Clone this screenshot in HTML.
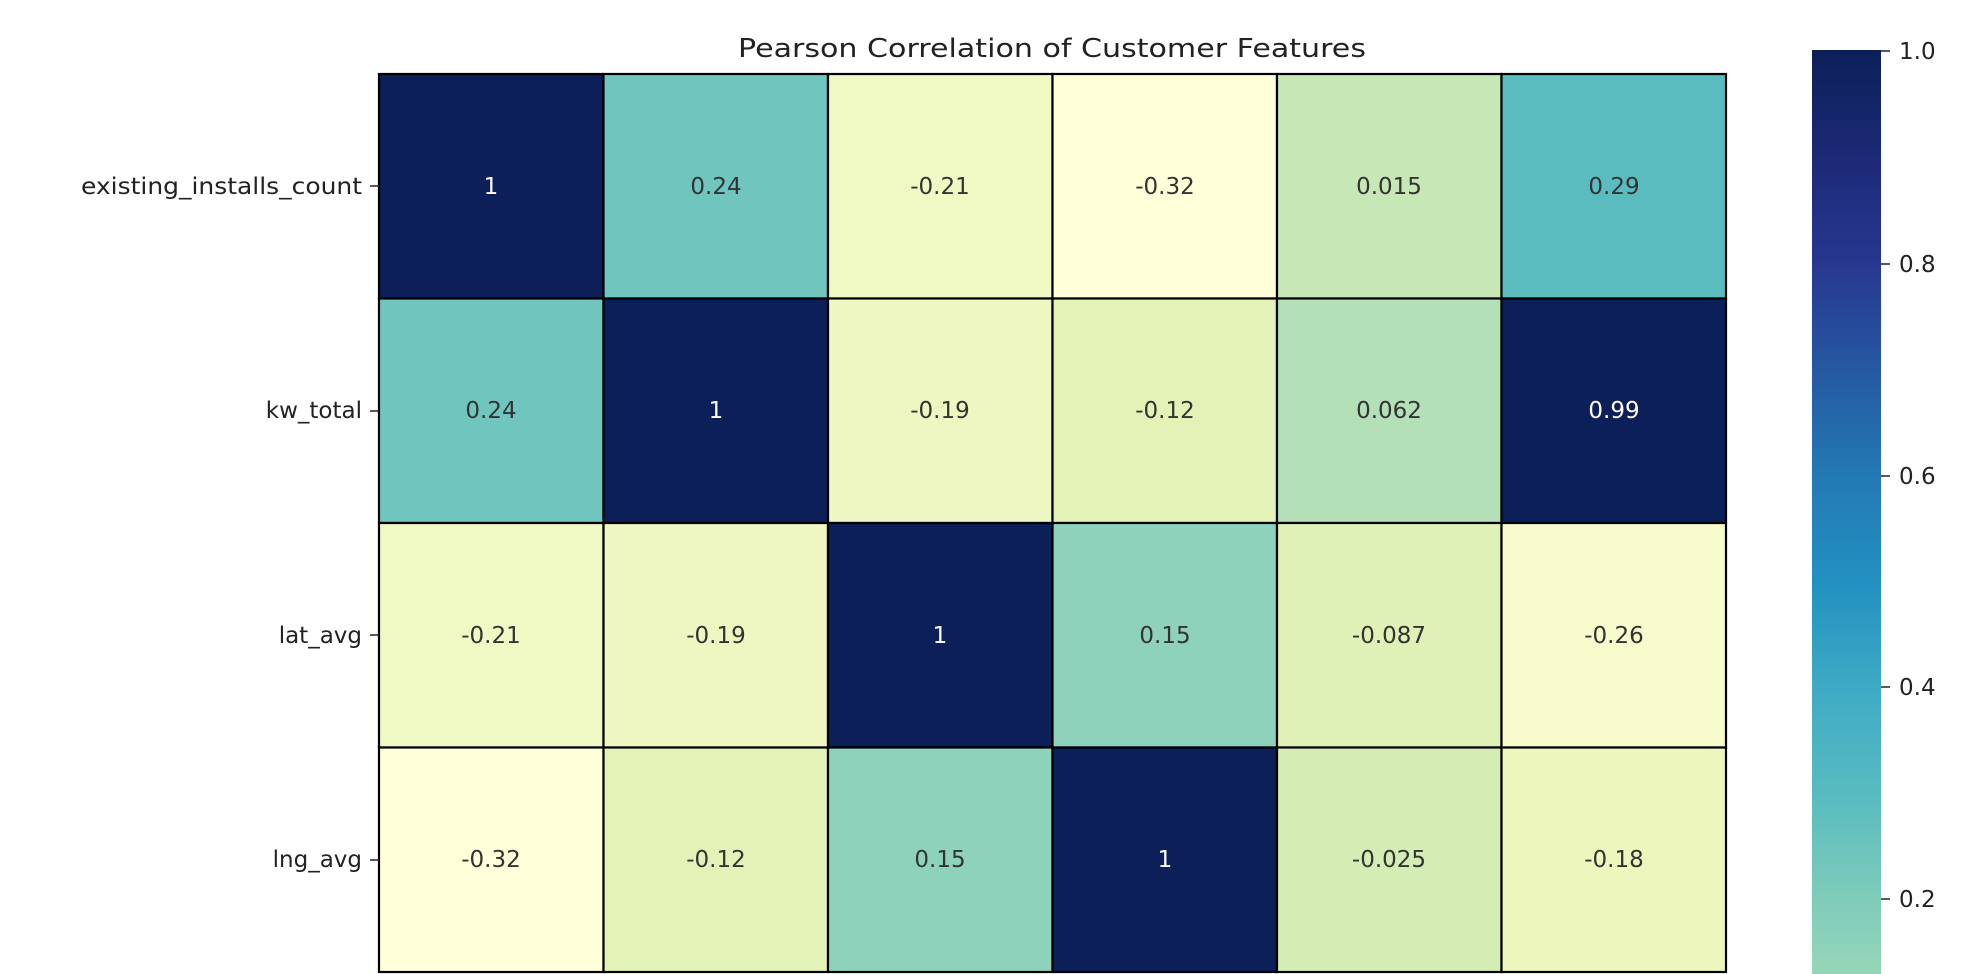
<!DOCTYPE html>
<html><head><meta charset="utf-8"><style>
html,body{margin:0;padding:0;background:#fff;}
svg{display:block;}
text{font-family:"DejaVu Sans","Liberation Sans",sans-serif;}
</style></head><body>
<svg width="1970" height="974" viewBox="0 0 1970 974" xmlns="http://www.w3.org/2000/svg">
<defs>
<linearGradient id="cb" x1="0" y1="1" x2="0" y2="0">
<stop offset="0" stop-color="#97d5b9"/>
<stop offset="0.081" stop-color="#7fccba"/>
<stop offset="0.195" stop-color="#58bbc0"/>
<stop offset="0.31" stop-color="#3eaac5"/>
<stop offset="0.425" stop-color="#2290c0"/>
<stop offset="0.54" stop-color="#2479b4"/>
<stop offset="0.77" stop-color="#27378f"/>
<stop offset="0.88" stop-color="#1d2a78"/>
<stop offset="1" stop-color="#0c1f58"/>
</linearGradient>
</defs>
<text x="1052" y="57" font-size="26" text-anchor="middle" fill="#222" textLength="628" lengthAdjust="spacingAndGlyphs">Pearson Correlation of Customer Features</text>

<g stroke="#000" stroke-width="2.2">
<rect x="379" y="74" width="224.5" height="224.5" fill="#0c1f58"/>
<rect x="603.5" y="74" width="224.5" height="224.5" fill="#70c6be"/>
<rect x="828" y="74" width="224.5" height="224.5" fill="#f0f8c4"/>
<rect x="1052.5" y="74" width="224.5" height="224.5" fill="#ffffd9"/>
<rect x="1277" y="74" width="224.5" height="224.5" fill="#c7e8b6"/>
<rect x="1501.5" y="74" width="224.5" height="224.5" fill="#5bbcc0"/>

<rect x="379" y="298.5" width="224.5" height="224.5" fill="#70c6be"/>
<rect x="603.5" y="298.5" width="224.5" height="224.5" fill="#0c1f58"/>
<rect x="828" y="298.5" width="224.5" height="224.5" fill="#eef7c2"/>
<rect x="1052.5" y="298.5" width="224.5" height="224.5" fill="#e3f3b7"/>
<rect x="1277" y="298.5" width="224.5" height="224.5" fill="#b3e0b6"/>
<rect x="1501.5" y="298.5" width="224.5" height="224.5" fill="#0c1f58"/>

<rect x="379" y="523" width="224.5" height="224.5" fill="#f0f8c4"/>
<rect x="603.5" y="523" width="224.5" height="224.5" fill="#eef7c2"/>
<rect x="828" y="523" width="224.5" height="224.5" fill="#0c1f58"/>
<rect x="1052.5" y="523" width="224.5" height="224.5" fill="#8ed2bb"/>
<rect x="1277" y="523" width="224.5" height="224.5" fill="#dff1b6"/>
<rect x="1501.5" y="523" width="224.5" height="224.5" fill="#f8fccc"/>

<rect x="379" y="747.5" width="224.5" height="224.5" fill="#ffffd9"/>
<rect x="603.5" y="747.5" width="224.5" height="224.5" fill="#e3f3b7"/>
<rect x="828" y="747.5" width="224.5" height="224.5" fill="#8ed2bb"/>
<rect x="1052.5" y="747.5" width="224.5" height="224.5" fill="#0c1f58"/>
<rect x="1277" y="747.5" width="224.5" height="224.5" fill="#d3edb4"/>
<rect x="1501.5" y="747.5" width="224.5" height="224.5" fill="#ecf6bd"/>
</g>

<g font-size="23" text-anchor="middle" fill="#333">
<text x="491" y="194" fill="#fff">1</text>
<text x="716" y="194">0.24</text>
<text x="940" y="194">-0.21</text>
<text x="1165" y="194">-0.32</text>
<text x="1389" y="194">0.015</text>
<text x="1614" y="194">0.29</text>

<text x="491" y="418">0.24</text>
<text x="716" y="418" fill="#fff">1</text>
<text x="940" y="418">-0.19</text>
<text x="1165" y="418">-0.12</text>
<text x="1389" y="418">0.062</text>
<text x="1614" y="418" fill="#fff">0.99</text>

<text x="491" y="643">-0.21</text>
<text x="716" y="643">-0.19</text>
<text x="940" y="643" fill="#fff">1</text>
<text x="1165" y="643">0.15</text>
<text x="1389" y="643">-0.087</text>
<text x="1614" y="643">-0.26</text>

<text x="491" y="867">-0.32</text>
<text x="716" y="867">-0.12</text>
<text x="940" y="867">0.15</text>
<text x="1165" y="867" fill="#fff">1</text>
<text x="1389" y="867">-0.025</text>
<text x="1614" y="867">-0.18</text>
</g>

<g stroke="#222" stroke-width="1.5">
<line x1="370" y1="186" x2="379" y2="186"/>
<line x1="370" y1="411" x2="379" y2="411"/>
<line x1="370" y1="635" x2="379" y2="635"/>
<line x1="370" y1="860" x2="379" y2="860"/>
</g>
<g font-size="23" text-anchor="end" fill="#222">
<text x="362" y="194" textLength="281" lengthAdjust="spacingAndGlyphs">existing_installs_count</text>
<text x="362" y="418">kw_total</text>
<text x="362" y="643">lat_avg</text>
<text x="362" y="867">lng_avg</text>
</g>

<rect x="1812" y="50" width="69" height="924" fill="url(#cb)"/>
<g stroke="#222" stroke-width="1.5">
<line x1="1881" y1="51" x2="1890" y2="51"/>
<line x1="1881" y1="264" x2="1890" y2="264"/>
<line x1="1881" y1="476" x2="1890" y2="476"/>
<line x1="1881" y1="687" x2="1890" y2="687"/>
<line x1="1881" y1="899" x2="1890" y2="899"/>
</g>
<g font-size="23" fill="#222">
<text x="1899" y="59">1.0</text>
<text x="1899" y="272">0.8</text>
<text x="1899" y="484">0.6</text>
<text x="1899" y="695">0.4</text>
<text x="1899" y="907">0.2</text>
</g>
</svg>
</body></html>
